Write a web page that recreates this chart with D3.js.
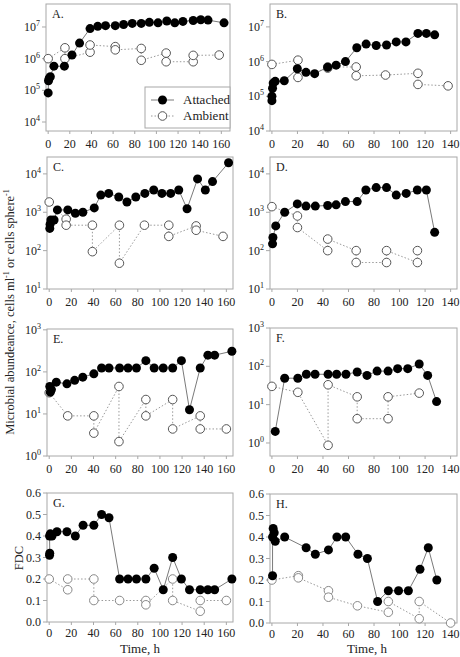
<!DOCTYPE html>
<html><head><meta charset="utf-8">
<script src="https://cdn.jsdelivr.net/npm/d3@7"></script>
<style>
body{margin:0;background:#fff}
svg{display:block}
text{font-family:"Liberation Serif","Times New Roman",serif;fill:#222}
</style>
</head><body>
<svg id="c" width="460" height="657"></svg>
<script>
// ---------- data: [time (h), value] ----------
const attachedA = [[0,8.3e4],[0.3,2e5],[1,2.4e5],[2,2.7e5],[5.3,5.8e5],[15,5.8e5],[22,1.3e6],[29,3.1e6],[38.7,8.9e6],[45.8,1.05e7],[53,1.1e7],[62,1.1e7],[69.7,1.2e7],[77.7,1.3e7],[86,1.3e7],[93.5,1.4e7],[101.5,1.35e7],[109.6,1.55e7],[117,1.35e7],[124.5,1.5e7],[134,1.6e7],[141,1.7e7],[147.7,1.65e7],[162.5,1.35e7]];
const ambientA = [[0,1e6],[15.5,2.2e6],[15.5,1e6],[38.7,1.6e6],[38.7,2.7e6],[62,2.4e6],[62,1.9e6],[86,2.1e6],[86,8.9e5],[109,1.5e6],[109,8e5],[134,8e5],[134,1.27e6],[158,1.3e6]];

const attachedB = [[0,7.5e4],[0,1e5],[0.5,1.7e5],[1,2.4e5],[2.6,2.7e5],[9.7,2.8e5],[19.9,6.2e5],[26.7,4.9e5],[33.5,4.5e5],[43.7,6.9e5],[50.3,7.9e5],[57.6,1e6],[66.5,2.5e6],[73.8,3.2e6],[81.7,2.9e6],[89.8,3e6],[97.4,3.7e6],[105,3.7e6],[114.4,6.5e6],[121,6.5e6],[127.5,5.9e6]];
const ambientB = [[0,8.3e5],[20.4,1.1e6],[20.4,3.5e5],[43.7,6.5e5],[43.7,7e5],[66,7e5],[66,3.9e5],[89,4.1e5],[114.4,4.6e5],[114.4,2.2e5],[138,2e5]];

const attachedC = [[0.5,380],[0.8,490],[1.5,630],[4.4,630],[7.4,1150],[16.8,1150],[23.6,940],[30.4,1000],[40.7,1300],[46.6,2800],[53.7,3100],[62.8,2500],[70.2,1850],[78.2,2500],[86.4,3100],[94.4,3800],[101.8,3100],[109.7,3100],[117,3800],[124.5,1230],[134,7400],[141,3800],[147.5,6300],[162,19500]];
const ambientC = [[0,1850],[15.3,660],[15.3,460],[39,460],[39,94],[63.4,460],[63.4,47],[86,460],[108,460],[108,235],[132.7,440],[132.7,340],[157,235]];

const attachedD = [[0.5,150],[0.8,220],[3,440],[10,1000],[19.9,1650],[26.7,1450],[34,1450],[43.7,1500],[50.3,1560],[57.6,1900],[66.8,1900],[73.6,3800],[81.7,4400],[89.8,4400],[97.4,2800],[105.2,3100],[113.9,3800],[121,3800],[127.5,300]];
const ambientD = [[0,1400],[20,800],[20,400],[43.7,100],[43.7,200],[66,100],[66,49],[89.8,49],[89.8,100],[114,49],[114,100]];

const attachedE = [[0.5,45],[1,33],[2,38],[6.4,57],[16,52],[23,63],[30.3,75],[40.3,90],[47.3,124],[54,124],[63.6,124],[71.2,124],[78.8,124],[87.3,185],[94.8,124],[103,124],[111.5,124],[119.4,185],[126.7,12.6],[136.4,124],[143.3,250],[149.4,250],[165,310]];
const ambientE = [[0,32],[16.7,9],[40.3,9],[40.3,3.5],[63,45],[63,2.2],[87.3,22],[87.3,9],[111.5,22],[111.5,4.4],[136.4,9],[136.4,4.4],[160,4.4]];

const attachedF = [[2.6,2],[10,49],[20.3,49],[27,62],[33.8,62],[44,62],[50.7,62],[58,62],[66.8,71],[74.5,58],[82.4,75],[91,75],[98.5,87],[106.4,87],[115.4,115],[122,58],[129,12]];
const ambientF = [[0,30],[20.3,21],[44,0.87],[44,33],[66.8,16],[66.8,4.3],[91,4.3],[91,16],[115.4,20]];

const attachedG = [[0.3,0.31],[0.5,0.32],[0.3,0.40],[1,0.41],[2.5,0.40],[7,0.42],[16,0.42],[23.6,0.40],[30.6,0.45],[40.3,0.45],[47.3,0.50],[54,0.485],[63.6,0.20],[71.2,0.20],[78.8,0.20],[87.3,0.20],[94.8,0.25],[103,0.15],[111.5,0.30],[119.4,0.20],[126.7,0.15],[136.4,0.15],[143.3,0.15],[149.4,0.15],[165,0.20]];
const ambientG = [[0,0.2],[16.7,0.15],[16.7,0.2],[40.3,0.2],[40.3,0.1],[63.6,0.1],[87.3,0.1],[87.3,0.08],[111.5,0.2],[111.5,0.1],[136.4,0.05],[136.4,0.1],[160,0.1]];

const attachedH = [[0.5,0.22],[0.5,0.40],[1,0.44],[1.8,0.42],[2.6,0.38],[10,0.40],[26.8,0.35],[34,0.32],[44.3,0.34],[50.9,0.40],[57.8,0.40],[67.4,0.32],[74.8,0.30],[82.8,0.10],[91.2,0.15],[99.2,0.15],[106.9,0.15],[116,0.25],[122.5,0.35],[129.2,0.20]];
const ambientH = [[0,0.20],[20.7,0.22],[20.7,0.21],[44.3,0.15],[44.3,0.12],[67,0.08],[91.2,0.05],[91.2,0.10],[115.4,0.02],[115.4,0.10],[140,0.0]];

// ---------- tick labels ----------
const xTicksLeft = [0,20,40,60,80,100,120,140,160];
const xTicksRight = [0,20,40,60,80,100,120,140];
const expTicksAB = [4,5,6,7];
const expTicksCD = [1,2,3,4];
const expTicksEF = [0,1,2,3];
const fdcTicks = [0,0.1,0.2,0.3,0.4,0.5,0.6];
const legendLabels = ["Attached","Ambient"];
const yTitle = "Microbial abundeance, cells ml";
const xTitle = "Time, h";

// ---------- layout ----------
const L = {x0:47, x1:233, dom:[-2,166]};
const LA = {x0:46, x1:230, dom:[-2,168]};
const R = {x0:270, x1:457, dom:[-1.5,145]};

const svg = d3.select("#c");

function panel(o){
  const g = svg.append("g");
  const x = d3.scaleLinear().domain(o.col.dom).range([o.col.x0,o.col.x1]);
  const y = o.log ? d3.scaleLog().domain(o.ydom).range([o.y1,o.y0])
                  : d3.scaleLinear().domain(o.ydom).range([o.y1,o.y0]);
  g.append("rect").attr("x",o.col.x0).attr("y",o.y0)
    .attr("width",o.col.x1-o.col.x0).attr("height",o.y1-o.y0)
    .attr("fill","none").attr("stroke","#a8a8a8").attr("stroke-width",1);
  const yt = o.log ? o.yticks.map(e=>Math.pow(10,e)) : o.yticks;
  yt.forEach((v,i)=>{
    const yy = y(v);
    g.append("line").attr("x1",o.col.x0-4).attr("x2",o.col.x0).attr("y1",yy).attr("y2",yy).attr("stroke","#a8a8a8");
    const t = g.append("text").attr("x",o.col.x0-6).attr("y",yy+4).attr("text-anchor","end").style("font-size","12px");
    if(o.log){
      t.append("tspan").text("10");
      t.append("tspan").attr("dy",-5).style("font-size","8px").text(o.yticks[i]);
    } else {
      t.text(d3.format(".1f")(v));
    }
  });
  o.xticks.forEach(v=>{
    const xx = x(v);
    g.append("line").attr("x1",xx).attr("x2",xx).attr("y1",o.y1).attr("y2",o.y1+3).attr("stroke","#a8a8a8");
    g.append("text").attr("x",xx).attr("y",o.y1+o.lab).attr("text-anchor","middle").style("font-size","12px").text(v);
  });
  g.append("text").attr("x",o.col.x0+6).attr("y",o.y0+14).style("font-size","12px").text(o.letter+".");
  const line = d3.line().x(d=>x(d[0])).y(d=>y(d[1]));
  g.append("path").attr("d",line(o.amb)).attr("fill","none")
    .attr("stroke","#9a9a9a").attr("stroke-width",1).attr("stroke-dasharray","1.5,2");
  g.append("path").attr("d",line(o.att)).attr("fill","none")
    .attr("stroke","#7a7a7a").attr("stroke-width",1);
  g.selectAll(".am").data(o.amb).enter().append("circle")
    .attr("cx",d=>x(d[0])).attr("cy",d=>y(d[1])).attr("r",4.3)
    .attr("fill","#fff").attr("stroke",o.ambStroke).attr("stroke-width",1);
  g.selectAll(".at").data(o.att).enter().append("circle")
    .attr("cx",d=>x(d[0])).attr("cy",d=>y(d[1])).attr("r",4.5)
    .attr("fill","#000");
  return g;
}

panel({letter:"A",col:LA,y0:4,y1:131,lab:17,log:true,ydom:[Math.pow(10,3.716),Math.pow(10,7.726)],yticks:expTicksAB,xticks:xTicksLeft,att:attachedA,amb:ambientA,ambStroke:"#555"});
panel({letter:"B",col:R,y0:4,y1:131,lab:17,log:true,ydom:[1e4,Math.pow(10,7.66)],yticks:expTicksAB,xticks:xTicksRight,att:attachedB,amb:ambientB,ambStroke:"#555"});
panel({letter:"C",col:L,y0:157,y1:289,lab:17,log:true,ydom:[10,Math.pow(10,4.44)],yticks:expTicksCD,xticks:xTicksLeft,att:attachedC,amb:ambientC,ambStroke:"#555"});
panel({letter:"D",col:R,y0:157,y1:289,lab:17,log:true,ydom:[10,Math.pow(10,4.44)],yticks:expTicksCD,xticks:xTicksRight,att:attachedD,amb:ambientD,ambStroke:"#555"});
panel({letter:"E",col:L,y0:329,y1:456,lab:17,log:true,ydom:[1,Math.pow(10,3.02)],yticks:expTicksEF,xticks:xTicksLeft,att:attachedE,amb:ambientE,ambStroke:"#555"});
panel({letter:"F",col:R,y0:328,y1:456,lab:17,log:true,ydom:[Math.pow(10,-0.34),Math.pow(10,3.0)],yticks:expTicksEF,xticks:xTicksRight,att:attachedF,amb:ambientF,ambStroke:"#555"});
panel({letter:"G",col:L,y0:493,y1:622,lab:15,log:false,ydom:[0,0.6],yticks:fdcTicks,xticks:xTicksLeft,att:attachedG,amb:ambientG,ambStroke:"#888"});
panel({letter:"H",col:R,y0:494,y1:623,lab:15,log:false,ydom:[0,0.6],yticks:fdcTicks,xticks:xTicksRight,att:attachedH,amb:ambientH,ambStroke:"#888"});

// legend in panel A
const lg = svg.append("g");
lg.append("rect").attr("x",145).attr("y",87).attr("width",85).attr("height",41)
  .attr("fill","#fff").attr("stroke","#a8a8a8");
legendLabels.forEach((lab,i)=>{
  const yy = 100 + i*16;
  lg.append("line").attr("x1",151).attr("x2",174).attr("y1",yy).attr("y2",yy)
    .attr("stroke", i===0?"#7a7a7a":"#9a9a9a").attr("stroke-dasharray", i===0?null:"1.5,2");
  lg.append("circle").attr("cx",162.5).attr("cy",yy).attr("r",i===0?4.5:4.3)
    .attr("fill", i===0?"#000":"#fff").attr("stroke", i===0?null:"#555");
  lg.append("text").attr("x",183).attr("y",yy+4).style("font-size","13px").text(lab);
});

// axis titles
const ytt = svg.append("text").attr("transform","translate(14,312) rotate(-90)")
  .attr("text-anchor","middle").style("font-size","12.5px");
ytt.append("tspan").text(yTitle);
ytt.append("tspan").attr("dy",-5).style("font-size","8px").text("-1");
ytt.append("tspan").attr("dy",5).text(" or cells sphere");
ytt.append("tspan").attr("dy",-5).style("font-size","8px").text("-1");

svg.append("text").attr("transform","translate(23,558) rotate(-90)")
  .attr("text-anchor","middle").style("font-size","12.5px").text("FDC");
svg.append("text").attr("x",140).attr("y",653).attr("text-anchor","middle").style("font-size","13px").text(xTitle);
svg.append("text").attr("x",367).attr("y",653).attr("text-anchor","middle").style("font-size","13px").text(xTitle);
</script>
</body></html>
